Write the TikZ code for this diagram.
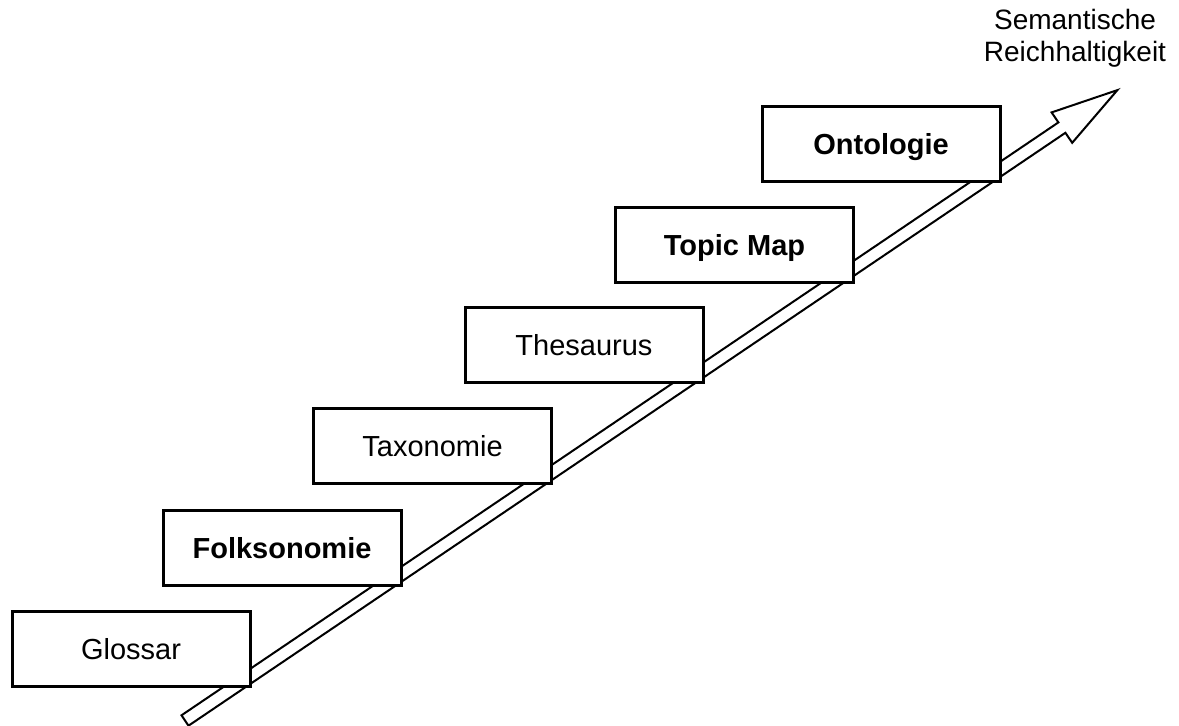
\documentclass[tikz,border=0pt]{standalone}
\usepackage{fontspec}
\setmainfont{Liberation Sans}
\begin{document}
\begin{tikzpicture}[x=1pt,y=-1pt,
  stage/.style={draw=black, fill=white, line width=3pt, line join=miter,
    minimum width=238pt, minimum height=75pt, inner sep=0pt,
    text height=21pt, text depth=0pt, font=\fontsize{29}{33}\selectfont},
  keystage/.style={stage, font=\fontsize{29}{33}\selectfont\bfseries},
  blockarrow/.style={draw=black, fill=white, line width=2pt, line join=miter}]
\useasboundingbox (0,0) rectangle (1179,726);

% outline of the hollow block arrow
\coordinate (tailU)  at (181.5,715.3);
\coordinate (tailL)  at (188.5,725.7);
\coordinate (notchU) at (1058.4,122.4);
\coordinate (notchL) at (1065.4,132.8);
\coordinate (wingU)  at (1051.6,112.4);
\coordinate (wingL)  at (1072.2,142.8);
\coordinate (tip)    at (1117.4,90.1);
\draw[blockarrow] (tailU) -- (notchU) -- (wingU) -- (tip) -- (wingL) -- (notchL) -- (tailL) -- cycle;

% steps of the staircase
\node[stage]    (glossar)  at (131,649)   {Glossar};
\node[keystage] (folk)     at (282,548)   {Folksonomie};
\node[stage]    (taxo)     at (432.5,446) {Taxonomie};
\node[stage]    (thes)     at (584,345)   {Thesaurus};
\node[keystage] (topic)    at (734.5,244.5) {Topic Map};
\node[keystage] (onto)     at (881,144)   {Ontologie};

% axis label
\node[anchor=north, align=center, inner sep=0pt,
  font=\fontsize{28}{32}\selectfont] (label) at (1075,8.6)
  {Semantische\\Reichhaltigkeit};
\end{tikzpicture}
\end{document}
